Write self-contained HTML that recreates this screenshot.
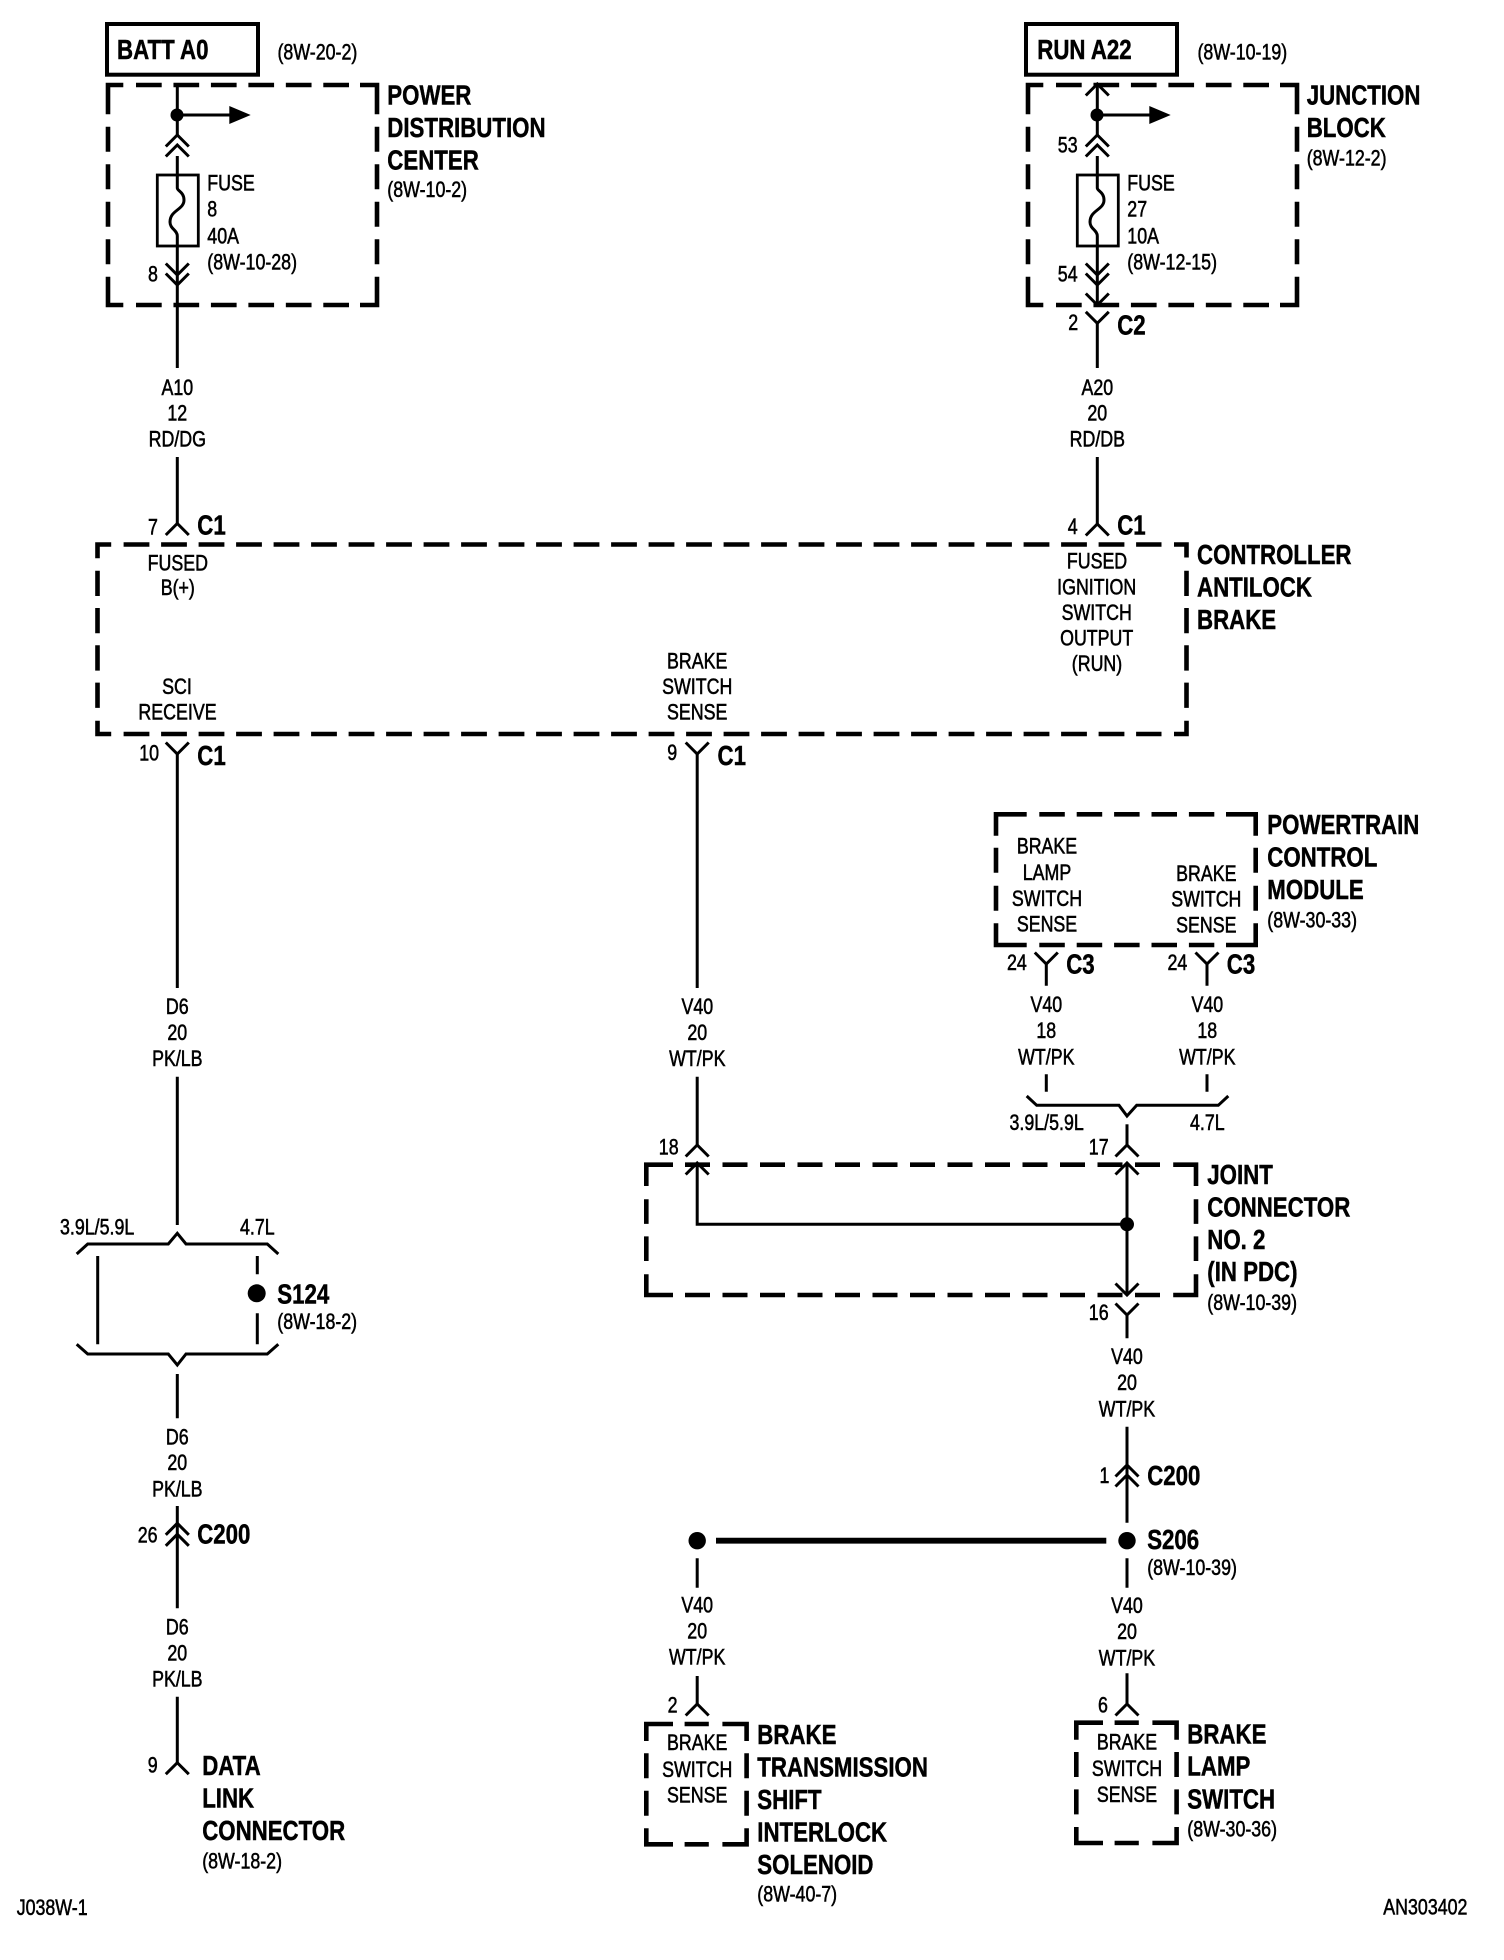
<!DOCTYPE html>
<html>
<head>
<meta charset="utf-8">
<style>
html,body{margin:0;padding:0;background:#fff}
svg{display:block}
text{fill:#000}
.s{font:22px "Liberation Sans",sans-serif;stroke:#000;stroke-width:.55}
.c{text-anchor:middle}
.t{font:bold 28px "Liberation Sans",sans-serif;stroke:#000;stroke-width:.5}
.w{fill:none;stroke:#000;stroke-width:3}
.n{fill:none;stroke:#000;stroke-width:2.8}
.d{fill:none;stroke:#000;stroke-width:4.6}
</style>
</head>
<body>
<svg width="1504" height="1960" viewBox="0 0 1504 1960" xmlns="http://www.w3.org/2000/svg">
<defs>
<path id="up" d="M-11.5 11.5L0 0L11.5 11.5" fill="none" stroke="#000" stroke-width="3"/>
<path id="dn" d="M-11.5 -11.5L0 0L11.5 -11.5" fill="none" stroke="#000" stroke-width="3"/>
<g id="pwr">
<path class="d" d="M108 114.3V85H123.3M360 85H377V114.3M108 276.7V305H123.3M360 305H377V276.7"/>
<path class="d" stroke-dasharray="25.7 11.76" d="M136 85H349M136 305H349"/>
<path class="d" stroke-dasharray="25 12.5" d="M108 126.7V264.3M377 126.7V264.3"/>
<rect class="n" x="157.3" y="175" width="41" height="71"/>
<path class="w" d="M177.3 156V188C177.3 191 184 192 184 200C184 210 170 210 170 222C170 229 177.3 230 177.3 236V285"/>
<circle cx="177" cy="115" r="6.5"/>
<path class="w" d="M177 115H232"/>
<path d="M229.3 106L250.7 115L229.3 124Z"/>
<use href="#up" x="177.3" y="135"/><use href="#up" x="177.3" y="145"/>
<use href="#dn" x="177.3" y="275"/><use href="#dn" x="177.3" y="285"/>
</g>
<g id="sm">
<path class="d" d="M646.3 1741V1724H673M722.4 1724H746.6V1741M646.3 1828.3V1844.3H673M722.4 1844.3H746.6V1828.3"/>
<path class="d" d="M684.6 1724H708.8M684.6 1844.3H708.8"/>
<path class="d" stroke-dasharray="25 12.4" d="M646.3 1753.3V1815.7M746.6 1753.3V1815.7"/>
</g>
</defs>

<!-- top boxes -->
<rect x="107" y="24" width="151" height="50.7" fill="none" stroke="#000" stroke-width="4"/>
<rect x="1026" y="24" width="151" height="50.7" fill="none" stroke="#000" stroke-width="4"/>
<text class="t" transform="matrix(.795 0 0 1 117 59)">BATT A0</text>
<text class="t" transform="matrix(.795 0 0 1 1037.3 59)">RUN A22</text>
<text class="s" transform="matrix(.81 0 0 1 277.5 59.5)">(8W-20-2)</text>
<text class="s" transform="matrix(.81 0 0 1 1197.5 59.5)">(8W-10-19)</text>

<use href="#pwr"/>
<use href="#pwr" x="920"/>
<path class="w" d="M177.3 85V135M177.3 285V368M177.3 457V523"/>
<path class="w" d="M1097.3 84V135M1097.3 285V305M1097.3 323V368M1097.3 457V524"/>
<use href="#up" x="1097.3" y="84"/>
<use href="#dn" x="1097.3" y="305"/>
<use href="#dn" x="1097.3" y="323.3"/>

<text class="s" transform="matrix(.81 0 0 1 148 281.7)">8</text>
<text class="s" transform="matrix(.81 0 0 1 207.3 190.7)">FUSE</text>
<text class="s" transform="matrix(.81 0 0 1 207.3 216.7)">8</text>
<text class="s" transform="matrix(.81 0 0 1 207.3 243.5)">40A</text>
<text class="s" transform="matrix(.81 0 0 1 207.3 269.3)">(8W-10-28)</text>
<text class="t" transform="matrix(.795 0 0 1 387.3 104.7)">POWER</text>
<text class="t" transform="matrix(.795 0 0 1 387.3 137)">DISTRIBUTION</text>
<text class="t" transform="matrix(.795 0 0 1 387.3 169.7)">CENTER</text>
<text class="s" transform="matrix(.81 0 0 1 387.3 197)">(8W-10-2)</text>
<text class="s c" transform="matrix(.81 0 0 1 177.3 395)">A10</text>
<text class="s c" transform="matrix(.81 0 0 1 177.3 420.7)">12</text>
<text class="s c" transform="matrix(.81 0 0 1 177.3 446.7)">RD/DG</text>

<text class="s" transform="matrix(.81 0 0 1 1057.8 152.7)">53</text>
<text class="s" transform="matrix(.81 0 0 1 1057.8 281.7)">54</text>
<text class="s" transform="matrix(.81 0 0 1 1068.3 330)">2</text>
<text class="t" transform="matrix(.795 0 0 1 1117.2 334.3)">C2</text>
<text class="s" transform="matrix(.81 0 0 1 1127.3 190.7)">FUSE</text>
<text class="s" transform="matrix(.81 0 0 1 1127.3 216.7)">27</text>
<text class="s" transform="matrix(.81 0 0 1 1127.3 243.5)">10A</text>
<text class="s" transform="matrix(.81 0 0 1 1127.3 269.3)">(8W-12-15)</text>
<text class="t" transform="matrix(.795 0 0 1 1306.7 104.7)">JUNCTION</text>
<text class="t" transform="matrix(.795 0 0 1 1306.7 137)">BLOCK</text>
<text class="s" transform="matrix(.81 0 0 1 1306.7 165.7)">(8W-12-2)</text>
<text class="s c" transform="matrix(.81 0 0 1 1097.3 395)">A20</text>
<text class="s c" transform="matrix(.81 0 0 1 1097.3 420.7)">20</text>
<text class="s c" transform="matrix(.81 0 0 1 1097.3 446.7)">RD/DB</text>

<!-- controller -->
<use href="#up" x="177.3" y="523.5"/>
<use href="#up" x="1097.3" y="524"/>
<text class="s" transform="matrix(.81 0 0 1 148 534.3)">7</text>
<text class="t" transform="matrix(.795 0 0 1 197.3 534.3)">C1</text>
<text class="s" transform="matrix(.81 0 0 1 1067.7 534)">4</text>
<text class="t" transform="matrix(.795 0 0 1 1117.2 534.3)">C1</text>
<path class="d" d="M97.5 558.3V544.5H111.2M1174 544.5H1186.5V557.5M97.5 720.7V734H111.2M1174 734H1186.5V720.7"/>
<path class="d" stroke-dasharray="25.8 11.7" d="M123.6 544.5H1161.5M123.6 734H1161.5"/>
<path class="d" stroke-dasharray="25.3 12" d="M97.5 570.7V708.3M1186.5 570.7V708.3"/>
<text class="s c" transform="matrix(.81 0 0 1 177.8 570.7)">FUSED</text>
<text class="s c" transform="matrix(.81 0 0 1 177.8 595)">B(+)</text>
<text class="s c" transform="matrix(.81 0 0 1 177 694)">SCI</text>
<text class="s c" transform="matrix(.81 0 0 1 177.5 719.5)">RECEIVE</text>
<text class="s c" transform="matrix(.81 0 0 1 697.2 668.5)">BRAKE</text>
<text class="s c" transform="matrix(.81 0 0 1 697.2 694)">SWITCH</text>
<text class="s c" transform="matrix(.81 0 0 1 697.2 719.5)">SENSE</text>
<text class="s c" transform="matrix(.81 0 0 1 1097 568.6)">FUSED</text>
<text class="s c" transform="matrix(.81 0 0 1 1096.7 594.5)">IGNITION</text>
<text class="s c" transform="matrix(.81 0 0 1 1096.7 620)">SWITCH</text>
<text class="s c" transform="matrix(.81 0 0 1 1096.7 645.7)">OUTPUT</text>
<text class="s c" transform="matrix(.81 0 0 1 1097 671)">(RUN)</text>
<text class="t" transform="matrix(.795 0 0 1 1197 564)">CONTROLLER</text>
<text class="t" transform="matrix(.795 0 0 1 1197 596.5)">ANTILOCK</text>
<text class="t" transform="matrix(.795 0 0 1 1197 629)">BRAKE</text>

<use href="#dn" x="177.3" y="754"/>
<use href="#dn" x="697.2" y="754"/>
<text class="s" transform="matrix(.81 0 0 1 139.2 760.7)">10</text>
<text class="t" transform="matrix(.795 0 0 1 197.3 765)">C1</text>
<text class="s" transform="matrix(.81 0 0 1 667.2 760)">9</text>
<text class="t" transform="matrix(.795 0 0 1 717.5 765)">C1</text>
<path class="w" d="M177.3 754V988M177.3 1076.7V1225M697.2 754V988M697.2 1076.7V1145"/>
<text class="s c" transform="matrix(.81 0 0 1 177.3 1014)">D6</text>
<text class="s c" transform="matrix(.81 0 0 1 177.3 1040)">20</text>
<text class="s c" transform="matrix(.81 0 0 1 177.3 1066)">PK/LB</text>
<text class="s c" transform="matrix(.81 0 0 1 697.3 1014)">V40</text>
<text class="s c" transform="matrix(.81 0 0 1 697.3 1040)">20</text>
<text class="s c" transform="matrix(.81 0 0 1 697.3 1066)">WT/PK</text>

<!-- PCM -->
<path class="d" d="M996 835.7V814.3H1026.7M1226 814.3H1255.7V835.7M996 923.3V945H1026.7M1226 945H1255.7V923.3"/>
<path class="d" stroke-dasharray="25.5 11.9" d="M1039.3 814.3H1214.3M1039.3 945H1214.3"/>
<path class="d" stroke-dasharray="25 13" d="M996 847.7V911M1255.7 847.7V911"/>
<text class="s c" transform="matrix(.81 0 0 1 1047 853.7)">BRAKE</text>
<text class="s c" transform="matrix(.81 0 0 1 1047 880)">LAMP</text>
<text class="s c" transform="matrix(.81 0 0 1 1047 906)">SWITCH</text>
<text class="s c" transform="matrix(.81 0 0 1 1047 931.7)">SENSE</text>
<text class="s c" transform="matrix(.81 0 0 1 1206.3 881)">BRAKE</text>
<text class="s c" transform="matrix(.81 0 0 1 1206.3 906.7)">SWITCH</text>
<text class="s c" transform="matrix(.81 0 0 1 1206.3 932.7)">SENSE</text>
<text class="t" transform="matrix(.795 0 0 1 1267.3 834)">POWERTRAIN</text>
<text class="t" transform="matrix(.795 0 0 1 1267.3 866.5)">CONTROL</text>
<text class="t" transform="matrix(.795 0 0 1 1267.3 899)">MODULE</text>
<text class="s" transform="matrix(.81 0 0 1 1267.3 927.7)">(8W-30-33)</text>
<use href="#dn" x="1046.3" y="964"/>
<use href="#dn" x="1207" y="964"/>
<path class="w" d="M1046.3 964V985.7M1207 964V985.7M1046.3 1074.3V1091.7M1207 1074.3V1091.7"/>
<text class="s" transform="matrix(.81 0 0 1 1007 970)">24</text>
<text class="t" transform="matrix(.795 0 0 1 1066.2 973.3)">C3</text>
<text class="s" transform="matrix(.81 0 0 1 1167.5 970)">24</text>
<text class="t" transform="matrix(.795 0 0 1 1226.8 973.3)">C3</text>
<text class="s c" transform="matrix(.81 0 0 1 1046.3 1012)">V40</text>
<text class="s c" transform="matrix(.81 0 0 1 1046.3 1037.8)">18</text>
<text class="s c" transform="matrix(.81 0 0 1 1046.3 1064.5)">WT/PK</text>
<text class="s c" transform="matrix(.81 0 0 1 1207.3 1012)">V40</text>
<text class="s c" transform="matrix(.81 0 0 1 1207.3 1037.8)">18</text>
<text class="s c" transform="matrix(.81 0 0 1 1207.3 1064.5)">WT/PK</text>
<path class="w" d="M1026.7 1096L1036.7 1105.3H1119L1127 1116L1136.7 1105.3H1218.3L1228.3 1096"/>
<text class="s" transform="matrix(.81 0 0 1 1009.5 1130)">3.9L/5.9L</text>
<text class="s" transform="matrix(.81 0 0 1 1190 1130)">4.7L</text>

<!-- joint connector -->
<path class="w" d="M1127 1124.3V1145"/>
<use href="#up" x="1127" y="1145"/>
<use href="#up" x="697.2" y="1145"/>
<text class="s" transform="matrix(.81 0 0 1 1088.8 1154.5)">17</text>
<text class="s" transform="matrix(.81 0 0 1 658.8 1154.5)">18</text>
<path class="d" d="M646.3 1186V1164.7H673M1173.2 1164.7H1196V1186M646.3 1274.3V1295H673M1173.2 1295H1196V1274.3"/>
<path class="d" stroke-dasharray="25 12.5" d="M685 1164.7H1160M685 1295H1160"/>
<path class="d" stroke-dasharray="24.6 12.5" d="M646.3 1199.3V1261M1196 1199.3V1261"/>
<use href="#up" x="697.2" y="1163"/>
<use href="#up" x="1127" y="1163"/>
<path class="w" d="M697.2 1163V1224.3H1127M1127 1163V1295"/>
<circle cx="1127" cy="1224.3" r="7"/>
<use href="#dn" x="1127" y="1295"/>
<use href="#dn" x="1127" y="1315"/>
<path class="w" d="M1127 1315V1338.3M1127 1426.7V1522.7"/>
<text class="s" transform="matrix(.81 0 0 1 1088.8 1320.2)">16</text>
<text class="t" transform="matrix(.795 0 0 1 1207.3 1184)">JOINT</text>
<text class="t" transform="matrix(.795 0 0 1 1207.3 1216.5)">CONNECTOR</text>
<text class="t" transform="matrix(.795 0 0 1 1207.3 1249)">NO. 2</text>
<text class="t" transform="matrix(.795 0 0 1 1207.3 1281)">(IN PDC)</text>
<text class="s" transform="matrix(.81 0 0 1 1207.3 1310)">(8W-10-39)</text>
<text class="s c" transform="matrix(.81 0 0 1 1127 1364)">V40</text>
<text class="s c" transform="matrix(.81 0 0 1 1127 1390.2)">20</text>
<text class="s c" transform="matrix(.81 0 0 1 1127 1416.7)">WT/PK</text>
<use href="#up" x="1127" y="1465"/>
<use href="#up" x="1127" y="1475"/>
<text class="s" transform="matrix(.81 0 0 1 1099.5 1483)">1</text>
<text class="t" transform="matrix(.795 0 0 1 1147.2 1485)">C200</text>

<!-- S206 -->
<circle cx="697.2" cy="1540.7" r="8.7"/>
<circle cx="1127" cy="1540.7" r="8.7"/>
<path d="M716 1537.8H1106.3V1543.6H716Z"/>
<text class="t" transform="matrix(.795 0 0 1 1147.2 1549)">S206</text>
<text class="s" transform="matrix(.81 0 0 1 1147.2 1575)">(8W-10-39)</text>
<path class="w" d="M697.2 1558.3V1587.7M1127 1558.3V1587.7M697.2 1676V1704M1127 1673.3V1704"/>
<text class="s c" transform="matrix(.81 0 0 1 697.2 1612.3)">V40</text>
<text class="s c" transform="matrix(.81 0 0 1 697.2 1638.3)">20</text>
<text class="s c" transform="matrix(.81 0 0 1 697.2 1664.7)">WT/PK</text>
<text class="s c" transform="matrix(.81 0 0 1 1127 1612.8)">V40</text>
<text class="s c" transform="matrix(.81 0 0 1 1127 1638.8)">20</text>
<text class="s c" transform="matrix(.81 0 0 1 1127 1665.5)">WT/PK</text>
<use href="#up" x="697.2" y="1704"/>
<use href="#up" x="1127" y="1704"/>
<text class="s" transform="matrix(.81 0 0 1 667.6 1712.7)">2</text>
<text class="s" transform="matrix(.81 0 0 1 1098 1712.7)">6</text>

<use href="#sm"/>
<g transform="translate(430,-1.3)"><use href="#sm"/></g>
<text class="s c" transform="matrix(.81 0 0 1 697.2 1750)">BRAKE</text>
<text class="s c" transform="matrix(.81 0 0 1 697.2 1777)">SWITCH</text>
<text class="s c" transform="matrix(.81 0 0 1 697.2 1802.7)">SENSE</text>
<text class="s c" transform="matrix(.81 0 0 1 1127 1749.3)">BRAKE</text>
<text class="s c" transform="matrix(.81 0 0 1 1127 1776)">SWITCH</text>
<text class="s c" transform="matrix(.81 0 0 1 1127 1802)">SENSE</text>
<text class="t" transform="matrix(.795 0 0 1 757.3 1744)">BRAKE</text>
<text class="t" transform="matrix(.795 0 0 1 757.3 1776.5)">TRANSMISSION</text>
<text class="t" transform="matrix(.795 0 0 1 757.3 1809)">SHIFT</text>
<text class="t" transform="matrix(.795 0 0 1 757.3 1841.5)">INTERLOCK</text>
<text class="t" transform="matrix(.795 0 0 1 757.3 1874)">SOLENOID</text>
<text class="s" transform="matrix(.81 0 0 1 757.3 1901.7)">(8W-40-7)</text>
<text class="t" transform="matrix(.795 0 0 1 1187.3 1743.3)">BRAKE</text>
<text class="t" transform="matrix(.795 0 0 1 1187.3 1775.7)">LAMP</text>
<text class="t" transform="matrix(.795 0 0 1 1187.3 1808.3)">SWITCH</text>
<text class="s" transform="matrix(.81 0 0 1 1187.3 1836.7)">(8W-30-36)</text>

<!-- left S124 section -->
<text class="s" transform="matrix(.81 0 0 1 60 1234.3)">3.9L/5.9L</text>
<text class="s" transform="matrix(.81 0 0 1 240 1234.3)">4.7L</text>
<path class="w" d="M76.7 1254L87.7 1244H168.3L177.3 1233.3L186 1244H267.3L278.3 1254"/>
<path class="w" d="M97.7 1256V1344.3M257.3 1256V1274.3M257.3 1313.3V1344.3"/>
<circle cx="256.7" cy="1293.3" r="9"/>
<text class="t" transform="matrix(.795 0 0 1 277.3 1303.3)">S124</text>
<text class="s" transform="matrix(.81 0 0 1 277.3 1329)">(8W-18-2)</text>
<path class="w" d="M76.7 1344.3L87.7 1354H168.3L177.3 1365L186 1354H267.3L278.3 1344.3"/>
<path class="w" d="M177.3 1374V1418.3M177.3 1506V1608.3M177.3 1696.7V1762.7"/>
<text class="s c" transform="matrix(.81 0 0 1 177.3 1444.3)">D6</text>
<text class="s c" transform="matrix(.81 0 0 1 177.3 1470)">20</text>
<text class="s c" transform="matrix(.81 0 0 1 177.3 1496.7)">PK/LB</text>
<use href="#up" x="177.3" y="1523.3"/>
<use href="#up" x="177.3" y="1534.3"/>
<text class="s" transform="matrix(.81 0 0 1 137.7 1542.3)">26</text>
<text class="t" transform="matrix(.795 0 0 1 197.2 1543.3)">C200</text>
<text class="s c" transform="matrix(.81 0 0 1 177.3 1634.3)">D6</text>
<text class="s c" transform="matrix(.81 0 0 1 177.3 1660.7)">20</text>
<text class="s c" transform="matrix(.81 0 0 1 177.3 1686.7)">PK/LB</text>
<use href="#up" x="177.3" y="1762.7"/>
<text class="s" transform="matrix(.81 0 0 1 147.7 1772.7)">9</text>
<text class="t" transform="matrix(.795 0 0 1 202.2 1775.2)">DATA</text>
<text class="t" transform="matrix(.795 0 0 1 202.2 1807.5)">LINK</text>
<text class="t" transform="matrix(.795 0 0 1 202.2 1840)">CONNECTOR</text>
<text class="s" transform="matrix(.81 0 0 1 202.2 1868.3)">(8W-18-2)</text>

<text class="s" transform="matrix(.81 0 0 1 16.7 1915)">J038W-1</text>
<text class="s" transform="matrix(.81 0 0 1 1383.3 1914.3)">AN303402</text>
</svg>
</body>
</html>
